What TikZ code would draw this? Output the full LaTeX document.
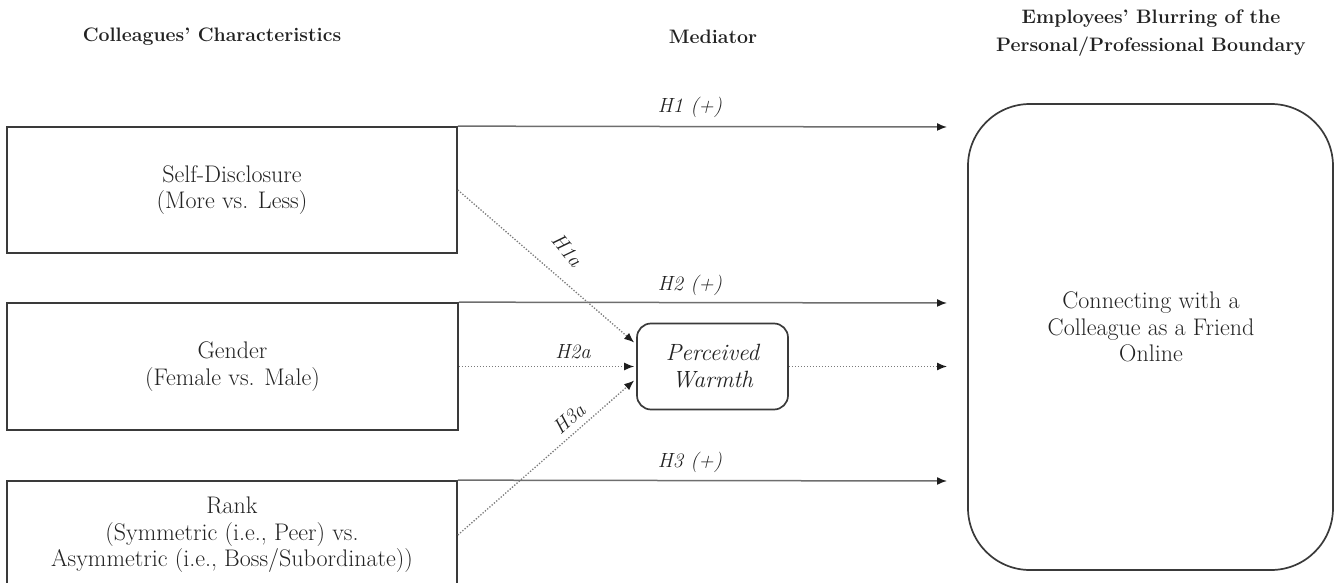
\documentclass[tikz,border=0pt]{standalone}
\usetikzlibrary{arrows.meta}
\definecolor{boxc}{HTML}{3A3A3A}
\definecolor{arrc}{HTML}{6E6E6E}
\definecolor{dotc}{HTML}{7A7A7A}
\definecolor{tipc}{HTML}{1E1E1E}
\definecolor{txt}{HTML}{222222}
\newcommand\bodyf{\fontsize{24}{26.5}\selectfont}
\newcommand\headf{\fontsize{19.5}{28}\selectfont\bfseries}
\newcommand\labf{\fontsize{20.5}{24}\selectfont\itshape}
\begin{document}
\begin{tikzpicture}[x=1pt,y=-1pt,
  box/.style={draw=boxc, line width=1.7pt, align=center, font=\bodyf, text=txt, inner sep=0pt, rectangle},
  solidarr/.style={draw=arrc, line width=1.5pt, -{Latex[length=10pt,width=8pt,color=tipc]}},
  dotarr/.style={draw=dotc, line width=1.3pt, dash pattern=on 1.3pt off 1.7pt, -{Latex[length=10pt,width=8pt,color=tipc]}},
  hlab/.style={font=\labf, text=txt, inner sep=0pt},
  head/.style={font=\headf, text=txt, align=center, inner sep=0pt}]
\useasboundingbox (0,0) rectangle (1339,583);
\clip (0,0) rectangle (1339,583);

% headers
\node[head] (h1) at (212,37) {Colleagues' Characteristics};
\node[head] (h2) at (713,37) {Mediator};
\node[head] (h3) at (1151,33) {Employees' Blurring of the\\Personal/Professional Boundary};

% boxes
\node[box, minimum width=450pt, minimum height=126pt] (b1) at (232,190) {Self-Disclosure\\(More vs. Less)};
\node[box, minimum width=451pt, minimum height=127pt] (b2) at (232.5,366.5) {Gender\\(Female vs. Male)};
\node[box, minimum width=450pt, minimum height=108pt] (b3) at (232,535) {Rank\\(Symmetric (i.e., Peer) vs.\\Asymmetric (i.e., Boss/Subordinate))};
\node[box, minimum width=151pt, minimum height=86pt, rounded corners=14pt, font=\fontsize{23.5}{27}\selectfont\itshape] (med) at (712.5,366.5) {Perceived\\Warmth};
\node[box, minimum width=365pt, minimum height=466pt, rounded corners=62pt] (out) at (1150.5,337) {};
\node[font=\bodyf, text=txt, align=center, inner sep=0pt] (outtxt) at (1151,327) {Connecting with a\\Colleague as a Friend\\Online};

% free arrow ends
\coordinate (t1) at (947,127);
\coordinate (t2) at (947,303);
\coordinate (t3) at (947,481);
\coordinate (tm) at (947,366.5);

% direct effects
\draw[solidarr] (b1.north east) -- (t1);
\draw[solidarr] (b2.north east) -- (t2);
\draw[solidarr] (b3.north east) -- (t3);

% mediated paths
\draw[dotarr] (b1.east) -- ([yshift=24pt,xshift=-2pt]med.west);
\draw[dotarr] (b2.east) -- ([xshift=-2pt]med.west);
\draw[dotarr] (b3.east) -- ([yshift=-14pt,xshift=-2pt]med.west);
\draw[dotarr] (med.east) -- (tm);

% labels
\node[hlab] (l1) at (690,107) {H1 (+)};
\node[hlab] (l2) at (690,285) {H2 (+)};
\node[hlab] (l3) at (690,462) {H3 (+)};
\node[hlab] (l2a) at (573,352) {H2a};
\node[hlab, rotate=-50] (l1a) at (567,250) {H1a};
\node[hlab, rotate=42] (l3a) at (569,419) {H3a};
\end{tikzpicture}
\end{document}
